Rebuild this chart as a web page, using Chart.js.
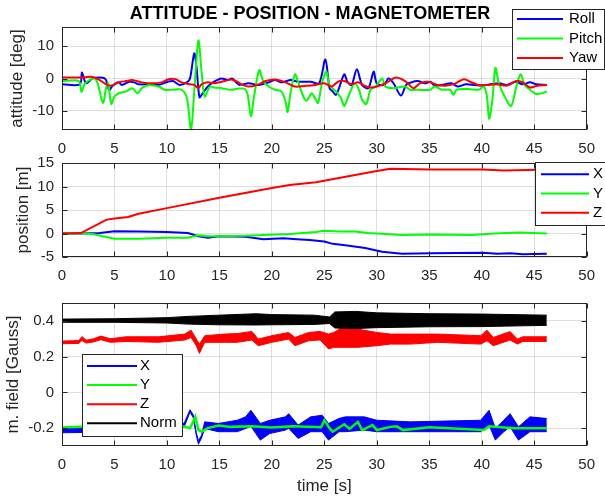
<!DOCTYPE html>
<html>
<head>
<meta charset="utf-8">
<script src="https://cdn.jsdelivr.net/npm/chart.js@4.4.1/dist/chart.umd.min.js"></script>
<style>
  html, body { margin: 0; padding: 0; background: #fff; }
  #wrap { position: relative; width: 605px; height: 497px; }
  #wrap canvas { position: absolute; left: 0; top: 0; }
</style>
</head>
<body>
<div id="wrap">
  <canvas id="att" width="605" height="497"></canvas>
  <canvas id="pos" width="605" height="497"></canvas>
  <canvas id="mag" width="605" height="497"></canvas>
</div>
<script>
// figure title and axis ticks
const figTitle = "ATTITUDE - POSITION - MAGNETOMETER";
const xTicks = [0, 5, 10, 15, 20, 25, 30, 35, 40, 45, 50];
const attTicks = [-10, 0, 10];
const posTicks = [-5, 0, 5, 10, 15];
const magTicks = [-0.2, 0, 0.2, 0.4];

// attitude [deg]
const rollT = [0, 1.7, 1.9, 2.3, 2.9, 3.9, 4.2, 4.5, 4.8, 5.4, 5.7, 6.4, 6.9, 7.3, 8.3, 9.2, 10.1, 10.6, 11.2, 11.9, 12.2, 12.6, 12.8, 13.1, 13.4, 13.9, 14.5, 15.2, 15.8, 16.2, 16.7, 16.9, 17.8, 18.8, 19.7, 20.3, 20.9, 21.8, 22.5, 23.7, 24.5, 25.1, 25.5, 25.8, 26.1, 26.4, 26.9, 27.2, 27.6, 28.1, 28.6, 29.2, 29.7, 30.0, 30.7, 31.1, 31.6, 32.3, 32.8, 33.3, 33.9, 34.6, 35.1, 35.5, 36.2, 37.1, 37.7, 38.5, 39.3, 40.1, 40.8, 41.7, 42.4, 43.2, 43.9, 44.6, 45.2, 46.2];
const rollV = [-1.8, -1.8, 1.9, -1.5, 0, 0.2, -0.5, -3.6, -2.3, -1.2, -2.0, -1.0, -1.2, -1.8, -1.8, -2.0, -1.0, -0.8, -2.0, -1.2, 0, 7.8, 4.2, -5.8, -4.6, -2.5, -1.0, 0, -0.5, 0, -1.5, -2.0, -1.5, -2.0, -1.2, -0.5, -1.2, -0.5, -1.0, -1.0, -1.5, 5.9, -3.0, -4.0, -5.1, -3.0, 1.3, -1.0, -2.0, 2.9, -2.0, -3.0, 2.1, -1.5, -2.0, 0, -1.5, -5.3, -2.0, -1.2, -0.8, -1.5, -1.0, -2.2, -2.0, -1.5, -2.5, -1.8, -2.0, -2.2, -1.8, -1.5, -2.0, -1.0, -1.8, -1.2, -1.8, -2.0];
const pitchT = [0, 1.6, 1.85, 2.2, 2.8, 3.1, 3.4, 3.9, 4.2, 4.4, 4.7, 5.0, 5.4, 6.1, 6.7, 7.2, 7.6, 8.3, 9.2, 9.8, 10.6, 11.4, 11.9, 12.3, 12.6, 13.0, 13.3, 13.6, 14.1, 14.5, 15.2, 16.1, 16.7, 17.4, 17.7, 18.0, 18.3, 18.8, 19.2, 19.7, 20.3, 20.9, 21.3, 21.5, 21.8, 22.2, 22.5, 23.0, 23.3, 23.8, 24.1, 24.4, 24.8, 25.2, 25.5, 26.1, 26.6, 26.9, 27.4, 27.9, 28.3, 28.6, 29.0, 29.4, 29.9, 30.5, 30.8, 31.6, 32.7, 33.2, 33.9, 35.1, 35.5, 36.2, 37.0, 37.3, 37.6, 38.7, 39.7, 40.2, 40.5, 40.7, 41.0, 41.3, 41.6, 42.1, 42.8, 43.3, 43.7, 44.1, 44.6, 45.2, 45.9, 46.2];
const pitchV = [-0.8, -0.8, -4.1, -1.5, -0.2, 0.2, -1.5, -7.6, -3.0, -1.5, -7.9, -5.6, -4.6, -4.0, -3.0, -4.6, -3.0, -2.0, -2.5, -3.5, -3.5, -3.5, -6.1, -15.8, -4.0, 11.8, 2.1, -5.6, -2.5, -2.8, -3.0, -3.5, -3.2, -3.2, -5.1, -11.7, -5.6, 2.6, -1.0, -2.5, -3.5, -4.0, -7.1, -10.4, -4.0, 1.3, -1.0, -5.6, -6.9, -4.6, -6.1, -7.6, -1.0, 2.1, -2.0, -4.0, -6.1, -8.5, -4.6, -1.5, -3.5, -6.6, -7.9, -3.5, -2.5, 0, -2.5, -3.0, -2.5, -3.5, -3.5, -3.5, -2.5, -3.5, -3.5, -5.1, -3.5, -3.3, -3.5, -2.5, -5.6, -12.5, -7.1, 3.3, -1.0, -5.1, -8.5, -2.5, 1.3, -2.0, -3.5, -4.8, -4.4, -4.0];
const yawT = [0, 1.8, 2.9, 3.6, 4.2, 4.7, 5.4, 6.1, 6.7, 7.6, 8.6, 9.5, 10.1, 10.8, 11.4, 12.2, 12.6, 13.0, 13.3, 13.9, 14.5, 15.5, 16.1, 16.7, 17.2, 17.8, 18.6, 19.4, 20.3, 21.3, 22.2, 23.1, 24.1, 25.0, 25.7, 26.3, 26.9, 27.6, 28.2, 28.8, 29.4, 30.0, 31.0, 31.8, 32.7, 33.5, 34.1, 34.9, 35.8, 36.7, 37.5, 38.3, 38.9, 39.7, 40.5, 41.4, 42.4, 43.3, 43.9, 44.6, 45.2, 46.2];
const yawV = [0.3, 0.3, 0.5, -0.5, -1.8, -2.2, -1.2, -0.8, -0.5, -1.2, -1.5, -1.2, -0.3, -0.2, -1.2, -1.8, -2.0, -3.0, -1.8, -1.2, -1.5, -0.8, -0.3, -1.0, -2.0, -2.5, -2.0, -0.8, -0.3, -1.2, -2.5, -2.3, -2.0, -1.5, -2.5, -1.0, -0.8, -1.8, -1.2, -2.2, -2.8, -2.5, -1.2, 0.3, -0.8, -3.0, -1.5, -1.0, -2.0, -2.2, -1.5, -0.2, -1.0, -2.0, -2.0, -1.8, -2.2, -0.8, -1.2, -2.8, -2.3, -2.0];

// position [m]
const posXT = [0, 2.0, 3.6, 5.0, 7.3, 10.0, 12.0, 13.0, 13.9, 15.0, 17.5, 19.2, 21.1, 22.4, 23.6, 25.0, 25.8, 27.0, 28.9, 30.5, 32.4, 35.1, 40.1, 41.5, 42.7, 43.9, 46.2];
const posXV = [0, 0, 0.1, 0.5, 0.4, 0.3, 0.1, -0.6, -0.9, -0.6, -0.7, -1.2, -1.0, -1.2, -1.4, -1.7, -2.2, -2.5, -3.1, -3.9, -4.3, -4.2, -4.1, -4.3, -4.2, -4.4, -4.3];
const posYT = [0, 2.0, 2.95, 3.9, 5.0, 7.3, 10.0, 12.0, 13.0, 13.9, 15.0, 17.5, 19.2, 21.7, 24.2, 25.0, 26.4, 27.9, 29.2, 32.4, 35.1, 39.0, 41.2, 43.6, 46.2];
const posYV = [0, 0, -0.1, -0.6, -1.1, -1.1, -0.9, -0.9, -0.4, -0.6, -0.6, -0.5, -0.3, -0.1, 0.3, 0.6, 0.4, 0.4, 0.1, -0.3, -0.2, -0.3, 0, 0.2, 0];
const posZT = [0, 1.8, 4.2, 5.0, 6.3, 7.3, 10.0, 15.0, 20.0, 21.7, 24.2, 30.0, 31.3, 35.1, 40.1, 42.1, 44.3, 46.2];
const posZV = [0, 0.1, 2.9, 3.2, 3.5, 4.2, 5.4, 7.6, 9.7, 10.3, 10.9, 13.3, 13.8, 13.6, 13.6, 13.4, 13.5, 13.6];

// magnetic field [Gauss]: noisy traces kept as upper / lower envelopes
const magXT = [0, 11.2, 11.7, 12.2, 12.5, 12.8, 13.0, 13.3, 13.6, 14.9, 16.7, 17.5, 18.0, 18.9, 19.8, 21.3, 21.6, 22.5, 23.7, 24.8, 25.4, 26.4, 27.0, 28.8, 30.0, 33.2, 39.9, 40.7, 41.3, 42.1, 42.7, 43.5, 44.6, 46.2];
const magXHi = [-0.202, -0.195, -0.165, -0.097, -0.125, -0.225, -0.27, -0.24, -0.165, -0.174, -0.156, -0.137, -0.10, -0.174, -0.156, -0.137, -0.119, -0.183, -0.137, -0.128, -0.174, -0.146, -0.137, -0.137, -0.156, -0.165, -0.156, -0.10, -0.202, -0.156, -0.119, -0.193, -0.137, -0.146];
const magXLo = [-0.226, -0.215, -0.185, -0.11, -0.14, -0.24, -0.29, -0.255, -0.202, -0.22, -0.22, -0.202, -0.19, -0.267, -0.23, -0.211, -0.20, -0.258, -0.22, -0.22, -0.267, -0.22, -0.22, -0.211, -0.22, -0.22, -0.22, -0.183, -0.267, -0.22, -0.193, -0.267, -0.22, -0.22];
const magYT = [0, 1.8, 11.5, 12.2, 12.5, 12.7, 13.0, 13.3, 13.9, 14.9, 16.1, 18.0, 20.0, 22.0, 24.7, 25.0, 25.5, 25.8, 26.9, 27.4, 28.2, 28.6, 29.6, 30.0, 31.3, 31.9, 32.5, 35.0, 40.2, 40.7, 43.0, 46.2];
const magYV = [-0.196, -0.192, -0.19, -0.20, -0.165, -0.137, -0.21, -0.22, -0.20, -0.185, -0.193, -0.19, -0.197, -0.19, -0.195, -0.156, -0.20, -0.22, -0.178, -0.204, -0.165, -0.211, -0.183, -0.211, -0.193, -0.19, -0.211, -0.195, -0.211, -0.19, -0.20, -0.20];
const magZT = [0, 1.6, 1.9, 2.3, 3.0, 3.7, 4.6, 6.1, 9.2, 11.7, 12.3, 12.8, 13.1, 13.6, 15.5, 16.7, 18.1, 18.7, 20.0, 21.6, 22.2, 23.5, 24.6, 25.4, 25.9, 26.7, 28.2, 30.0, 31.3, 33.2, 35.8, 39.9, 40.5, 41.1, 42.7, 43.4, 43.9, 46.2];
const magZHi = [0.287, 0.290, 0.312, 0.292, 0.300, 0.315, 0.300, 0.311, 0.311, 0.326, 0.348, 0.298, 0.270, 0.317, 0.326, 0.329, 0.341, 0.298, 0.317, 0.335, 0.307, 0.335, 0.341, 0.326, 0.335, 0.363, 0.354, 0.335, 0.326, 0.326, 0.326, 0.317, 0.348, 0.307, 0.340, 0.298, 0.311, 0.311];
const magZLo = [0.272, 0.274, 0.290, 0.276, 0.282, 0.295, 0.280, 0.285, 0.280, 0.293, 0.307, 0.261, 0.218, 0.280, 0.280, 0.280, 0.293, 0.261, 0.280, 0.298, 0.261, 0.289, 0.293, 0.243, 0.252, 0.252, 0.252, 0.261, 0.270, 0.270, 0.280, 0.270, 0.289, 0.261, 0.293, 0.270, 0.285, 0.285];
const normT = [0, 5, 10, 12, 15, 18.5, 20, 24, 25.5, 26, 28, 30, 35, 40, 46.2];
const normHi = [0.410, 0.412, 0.418, 0.425, 0.432, 0.440, 0.435, 0.432, 0.422, 0.450, 0.453, 0.445, 0.440, 0.438, 0.432];
const normLo = [0.392, 0.392, 0.388, 0.382, 0.378, 0.377, 0.378, 0.380, 0.385, 0.360, 0.357, 0.362, 0.367, 0.368, 0.375];

const BLUE = "#0000ff", GREEN = "#00ff00", RED = "#ff0000", BLACK = "#000000";
const AXC = "#262626";
const GRID = "rgba(38,38,38,0.15)";

Chart.defaults.font.family = '"Liberation Sans", Arial, Helvetica, sans-serif';
Chart.defaults.color = AXC;

function pts(t, v) {
  return t.map(function (x, i) { return { x: x, y: v[i] }; });
}

function line(label, t, v, color, width, extra) {
  return Object.assign({
    label: label,
    data: pts(t, v),
    borderColor: color,
    backgroundColor: color,
    borderWidth: width,
    pointRadius: 0,
    fill: false,
    tension: 0
  }, extra || {});
}

function xAxis(height, pad, showTitle) {
  return {
    type: "linear", min: 0, max: 50,
    afterBuildTicks: function (s) { s.ticks = xTicks.map(function (v) { return { value: v }; }); },
    afterFit: function (s) { s.height = height; },
    grid: { color: GRID, drawTicks: false },
    border: { display: false },
    ticks: { color: AXC, font: { size: 15 }, padding: pad, maxRotation: 0, autoSkip: false },
    title: { display: !!showTitle, text: "time [s]", color: AXC, font: { size: 17 }, padding: { top: 0, bottom: 0 } }
  };
}

function yAxis(min, max, ticks, title, titlePad, fmt) {
  return {
    type: "linear", min: min, max: max,
    afterBuildTicks: function (s) { s.ticks = ticks.map(function (v) { return { value: v }; }); },
    afterFit: function (s) { s.width = 62; },
    grid: { color: GRID, drawTicks: false },
    border: { display: false },
    ticks: { color: AXC, font: { size: 15 }, padding: 8, callback: fmt },
    title: { display: true, text: title, color: AXC, font: { size: 17 }, padding: { top: titlePad, bottom: 0 } }
  };
}

// MATLAB style box with inward ticks on all four sides
const frame = {
  id: "frame",
  afterDatasetsDraw: function (chart) {
    const ctx = chart.ctx, a = chart.chartArea, x = chart.scales.x, y = chart.scales.y;
    const L = Math.round(a.left) + 0.5, R = Math.round(a.right) - 0.5;
    const T = Math.round(a.top) + 0.5, B = Math.round(a.bottom) - 0.5;
    ctx.save();
    ctx.strokeStyle = AXC;
    ctx.lineWidth = 1;
    ctx.beginPath();
    x.ticks.forEach(function (t) {
      const p = Math.round(x.getPixelForValue(t.value)) + 0.5;
      ctx.moveTo(p, T); ctx.lineTo(p, T + 5);
      ctx.moveTo(p, B); ctx.lineTo(p, B - 5);
    });
    y.ticks.forEach(function (t) {
      const p = Math.round(y.getPixelForValue(t.value)) + 0.5;
      ctx.moveTo(L, p); ctx.lineTo(L + 5, p);
      ctx.moveTo(R, p); ctx.lineTo(R - 5, p);
    });
    ctx.stroke();
    ctx.strokeRect(L, T, R - L, B - T);
    ctx.restore();
  }
};

function boxLegend(cfg) {
  return {
    id: "boxLegend",
    afterDraw: function (chart) {
      const ctx = chart.ctx;
      ctx.save();
      ctx.fillStyle = "#ffffff";
      ctx.fillRect(cfg.x, cfg.y, cfg.w, cfg.h);
      ctx.strokeStyle = AXC;
      ctx.lineWidth = 1;
      ctx.strokeRect(cfg.x + 0.5, cfg.y + 0.5, cfg.w, cfg.h);
      ctx.font = '15px "Liberation Sans", Arial, sans-serif';
      ctx.textBaseline = "middle";
      ctx.textAlign = "left";
      cfg.items.forEach(function (it, i) {
        const yy = cfg.row0 + i * cfg.dy;
        ctx.strokeStyle = it[1];
        ctx.lineWidth = 2;
        ctx.beginPath();
        ctx.moveTo(cfg.l0, yy); ctx.lineTo(cfg.l1, yy);
        ctx.stroke();
        ctx.fillStyle = "#000000";
        ctx.fillText(it[0], cfg.tx, yy);
      });
      ctx.restore();
    }
  };
}

const figTitlePlugin = {
  id: "figTitle",
  afterDraw: function (chart) {
    const ctx = chart.ctx;
    ctx.save();
    ctx.font = 'bold 18px "Liberation Sans", Arial, sans-serif';
    ctx.fillStyle = "#000000";
    ctx.textAlign = "center";
    ctx.textBaseline = "middle";
    ctx.fillText(figTitle, 310, 14);
    ctx.restore();
  }
};

const common = {
  responsive: false,
  animation: false,
  events: [],
  plugins: { legend: { display: false }, tooltip: { enabled: false } }
};

const intFmt = function (v) { return String(v); };
const magFmt = function (v) { return v === 0 ? "0" : v.toFixed(1); };

// attitude
new Chart(document.getElementById("att"), {
  type: "line",
  data: {
    datasets: [
      line("Yaw", yawT, yawV, RED, 2, { tension: 0.3 }),
      line("Pitch", pitchT, pitchV, GREEN, 2, { tension: 0.3 }),
      line("Roll", rollT, rollV, BLUE, 2, { tension: 0.3 })
    ]
  },
  options: Object.assign({}, common, {
    layout: { padding: { top: 27, right: 11, bottom: 337, left: 0 } },
    scales: { x: xAxis(30, 10, false), y: yAxis(-16, 16, attTicks, "attitude [deg]", 7.3, intFmt) }
  }),
  plugins: [frame, figTitlePlugin, boxLegend({
    x: 512, y: 9, w: 92, h: 60, l0: 517, l1: 563, tx: 569, row0: 19, dy: 19.5,
    items: [["Roll", BLUE], ["Pitch", GREEN], ["Yaw", RED]]
  })]
});

// position
new Chart(document.getElementById("pos"), {
  type: "line",
  data: {
    datasets: [
      line("Z", posZT, posZV, RED, 2),
      line("Y", posYT, posYV, GREEN, 2),
      line("X", posXT, posXV, BLUE, 2)
    ]
  },
  options: Object.assign({}, common, {
    layout: { padding: { top: 163, right: 11, bottom: 217, left: 0 } },
    scales: { x: xAxis(23, 10, false), y: yAxis(-5, 15, posTicks, "position [m]", 12.8, intFmt) }
  }),
  plugins: [frame, boxLegend({
    x: 535, y: 162, w: 80, h: 63, l0: 541, l1: 589, tx: 593, row0: 174.3, dy: 19.2,
    items: [["X", BLUE], ["Y", GREEN], ["Z", RED]]
  })]
});

// magnetometer
new Chart(document.getElementById("mag"), {
  type: "line",
  data: {
    datasets: [
      line("Norm", normT, normHi, BLACK, 1),
      line("Norm lo", normT, normLo, BLACK, 1, { fill: "-1" }),
      line("Z", magZT, magZHi, RED, 1),
      line("Z lo", magZT, magZLo, RED, 1, { fill: "-1" }),
      line("Y", magYT, magYV, GREEN, 2.5),
      line("X", magXT, magXHi, BLUE, 1),
      line("X lo", magXT, magXLo, BLUE, 1, { fill: "-1" })
    ]
  },
  options: Object.assign({}, common, {
    layout: { padding: { top: 303, right: 11, bottom: 0, left: 0 } },
    scales: { x: xAxis(51, 10, true), y: yAxis(-0.3, 0.5, magTicks, "m. field [Gauss]", 3.3, magFmt) }
  }),
  plugins: [frame, boxLegend({
    x: 82, y: 354, w: 100, h: 82, l0: 87, l1: 137, tx: 140, row0: 366, dy: 19.1,
    items: [["X", BLUE], ["Y", GREEN], ["Z", RED], ["Norm", BLACK]]
  })]
});
</script>
</body>
</html>
